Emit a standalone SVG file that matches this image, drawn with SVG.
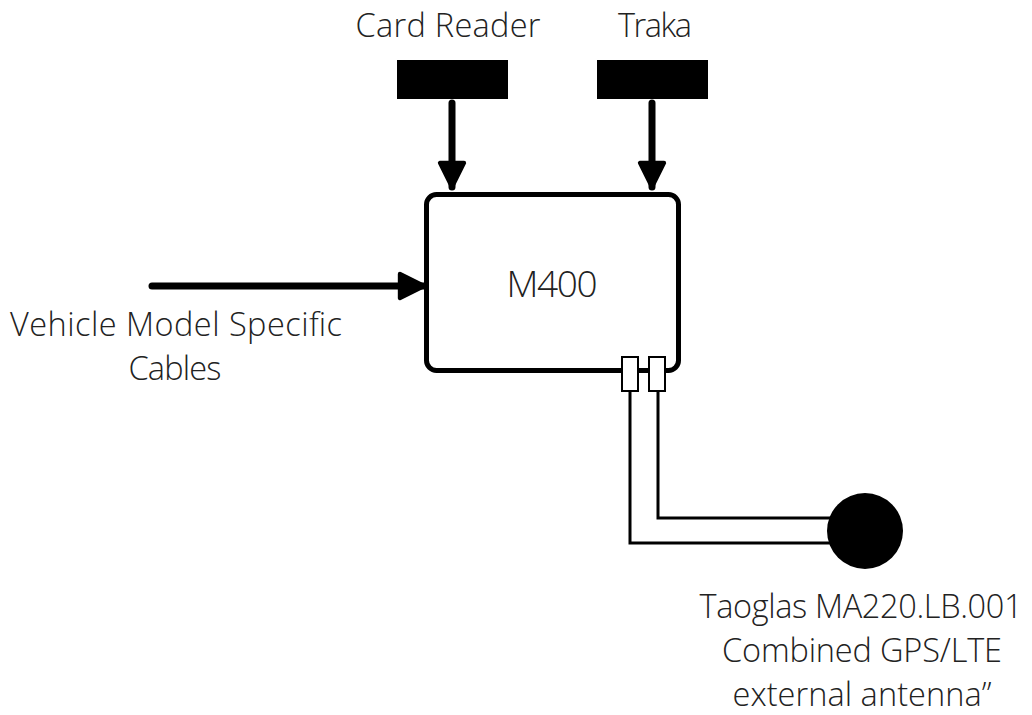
<svg xmlns="http://www.w3.org/2000/svg" width="1032" height="715" viewBox="0 0 1032 715">
<style>
text{font-family:"Open Sans","Liberation Sans",sans-serif;font-weight:300;fill:#222;text-anchor:middle}
.lbl{font-size:32.5px}
.dev{fill:#000}
.arrow{stroke:#000;stroke-width:7;stroke-linecap:round;fill:none}
.cable{stroke:#000;stroke-width:3;fill:none}
.port{fill:#fff;stroke:#000;stroke-width:2}
</style>
<defs>
<marker id="ah" viewBox="0 0 10 10" refX="9" refY="5" markerWidth="4.3" markerHeight="4.3" markerUnits="strokeWidth" orient="auto">
<path d="M1,1 L9,5 L1,9 Z" fill="#000" stroke="#000" stroke-width="1.4" stroke-linejoin="round"/>
</marker>
</defs>
<rect width="1032" height="715" fill="#fff"/>
<g id="card-reader">
<rect class="dev" x="397" y="60" width="111" height="39"/>
<text class="lbl" x="448" y="37" textLength="185" lengthAdjust="spacing">Card Reader</text>
</g>
<g id="traka">
<rect class="dev" x="597" y="60" width="111" height="39"/>
<text class="lbl" x="655" y="37" textLength="74" lengthAdjust="spacing">Traka</text>
</g>
<g id="m400">
<rect x="426.5" y="194.5" width="252" height="176" rx="10" fill="#fff" stroke="#000" stroke-width="5"/>
<text x="552" y="297" font-size="37" textLength="91" lengthAdjust="spacing">M400</text>
</g>
<g id="vehicle-cables">
<text class="lbl" x="176" y="336" textLength="332" lengthAdjust="spacing">Vehicle Model Specific</text>
<text class="lbl" x="175" y="380" textLength="93" lengthAdjust="spacing">Cables</text>
</g>
<g id="antenna">
<circle cx="865" cy="531" r="38" fill="#000"/>
<text class="lbl" x="861" y="618" textLength="323" lengthAdjust="spacing">Taoglas MA220.LB.001</text>
<text class="lbl" x="862" y="662" textLength="280" lengthAdjust="spacing">Combined GPS/LTE</text>
<text class="lbl" x="862" y="706" textLength="259" lengthAdjust="spacing">external antenna”</text>
</g>
<g id="connectors">
<line class="arrow" x1="452" y1="103" x2="452" y2="187" marker-end="url(#ah)"/>
<line class="arrow" x1="652" y1="103" x2="652" y2="187" marker-end="url(#ah)"/>
<line class="arrow" x1="152" y1="286" x2="424" y2="286" marker-end="url(#ah)"/>
<path class="cable" d="M630,391 V543 H840"/>
<path class="cable" d="M658,391 V518 H840"/>
<rect class="port" x="622" y="357" width="16" height="34"/>
<rect class="port" x="649" y="357" width="16" height="34"/>
</g>
</svg>
